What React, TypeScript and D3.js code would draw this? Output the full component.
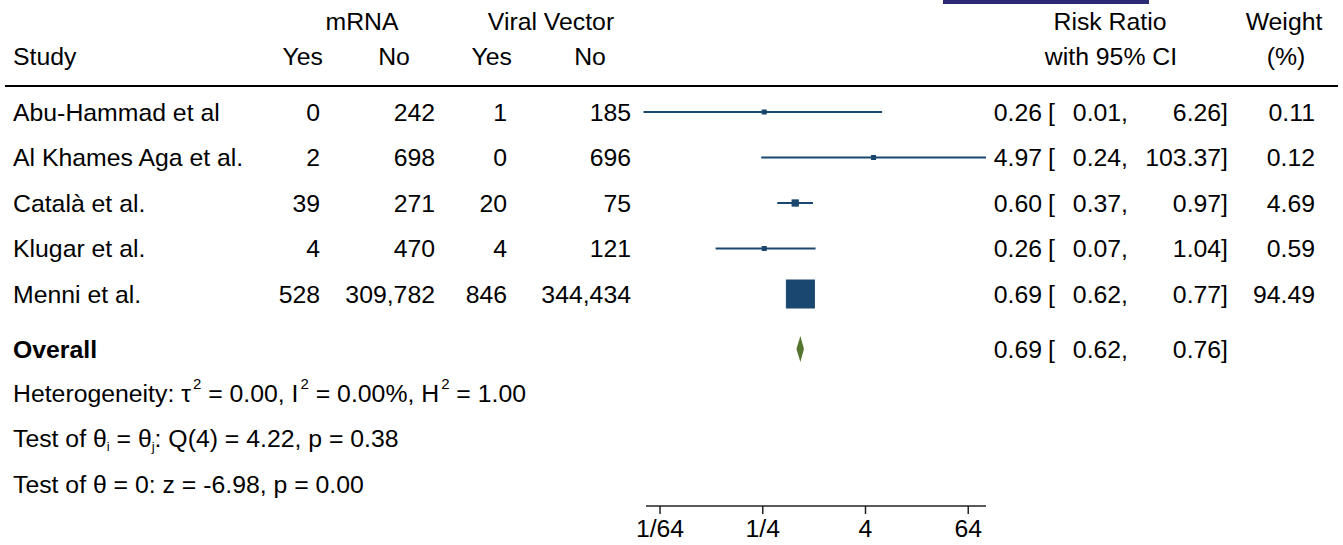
import React from 'react'
import * as d3 from 'd3'

// study rows
const studies = ['Abu-Hammad et al', 'Al Khames Aga et al.', 'Català et al.', 'Klugar et al.', 'Menni et al.']
const mrnaYes = [0, 2, 39, 4, 528]
const mrnaNo = [242, 698, 271, 470, 309782]
const vvYes = [1, 0, 20, 4, 846]
const vvNo = [185, 696, 75, 121, 344434]
const riskRatio = [0.26, 4.97, 0.6, 0.26, 0.69]
const ciLow = [0.01, 0.24, 0.37, 0.07, 0.62]
const ciHigh = [6.26, 103.37, 0.97, 1.04, 0.77]
const weights = [0.11, 0.12, 4.69, 0.59, 94.49]

// pooled estimate
const overallRR = 0.69
const overallLow = 0.62
const overallHigh = 0.76

const tickValues = [1 / 64, 1 / 4, 4, 64]
const tickLabels = ['1/64', '1/4', '4', '64']

const W = 1343
const H = 545
const FONT = '"Liberation Sans", Arial, sans-serif'
const FS = 24.8
const NAVY = '#1a476f'
const GREEN = '#55752f'

export default function App() {
  const x = d3.scaleLog()
    .base(2)
    .domain([d3.min(ciLow) as number, d3.max(ciHigh) as number])
    .range([643.5, 986])

  const rowY = d3.scalePoint<number>()
    .domain(d3.range(studies.length))
    .range([112, 294])

  const side = d3.scaleSqrt()
    .domain([0, d3.max(weights) as number])
    .range([0, 28])

  const fmtN = d3.format(',')
  const fmt2 = d3.format('.2f')
  const base = (cy: number) => cy + 8.7

  const overallY = 349
  const axisY = 506

  const num = (v: number, xr: number, cy: number, key: string) => (
    <text key={key} x={xr} y={base(cy)} textAnchor="end">{fmtN(v)}</text>
  )

  const ciText = (est: number, lo: number, hi: number, cy: number, key: string) => (
    <g key={key}>
      <text x={1042} y={base(cy)} textAnchor="end">{fmt2(est)}</text>
      <text x={1048} y={base(cy)}>[</text>
      <text x={1128} y={base(cy)} textAnchor="end">{fmt2(lo)},</text>
      <text x={1228} y={base(cy)} textAnchor="end">{fmt2(hi)}]</text>
    </g>
  )

  const [x0, x1] = x.range()

  return (
    <svg width={W} height={H} style={{ position: 'absolute', left: 0, top: 0, background: '#fff' }}
      fontFamily={FONT} fontSize={FS} fill="#000">
      <rect x={0} y={0} width={W} height={H} fill="#fff" />
      {/* cropped banner at top */}
      <rect x={943} y={0} width={206} height={4} fill="#2a2a72" />

      {/* headers */}
      <text x={362} y={30} textAnchor="middle">mRNA</text>
      <text x={551} y={30} textAnchor="middle">Viral Vector</text>
      <text x={13} y={65}>Study</text>
      <text x={323} y={65} textAnchor="end">Yes</text>
      <text x={394} y={65} textAnchor="middle">No</text>
      <text x={512} y={65} textAnchor="end">Yes</text>
      <text x={590} y={65} textAnchor="middle">No</text>
      <text x={1110} y={30} textAnchor="middle">Risk Ratio</text>
      <text x={1111} y={65} textAnchor="middle">with 95% CI</text>
      <text x={1284} y={30} textAnchor="middle">Weight</text>
      <text x={1286} y={65} textAnchor="middle">(%)</text>
      <line x1={5} x2={1338} y1={86} y2={86} stroke="#000" strokeWidth={2} />

      {/* study rows */}
      {studies.map((s, i) => {
        const cy = rowY(i) as number
        const sz = Math.max(4, side(weights[i]))
        return (
          <g key={s}>
            <text x={13} y={base(cy)}>{s}</text>
            {num(mrnaYes[i], 320, cy, 'a')}
            {num(mrnaNo[i], 435, cy, 'b')}
            {num(vvYes[i], 507, cy, 'c')}
            {num(vvNo[i], 631, cy, 'd')}
            <line x1={x(ciLow[i])} x2={x(ciHigh[i])} y1={cy} y2={cy} stroke={NAVY} strokeWidth={2} />
            <rect x={x(riskRatio[i]) - sz / 2} y={cy - sz / 2} width={sz} height={sz}
              fill={NAVY} stroke={NAVY} strokeWidth={1} />
            {ciText(riskRatio[i], ciLow[i], ciHigh[i], cy, 'ci')}
            <text x={1315} y={base(cy)} textAnchor="end">{fmt2(weights[i])}</text>
          </g>
        )
      })}

      {/* overall */}
      <text x={13} y={base(overallY)} fontWeight="bold">Overall</text>
      <path
        d={`M${x(overallLow)},${overallY} L${x(overallRR)},${overallY - 13} L${x(overallHigh)},${overallY} L${x(overallRR)},${overallY + 13} Z`}
        fill={GREEN} />
      {ciText(overallRR, overallLow, overallHigh, overallY, 'ov')}

      {/* heterogeneity */}
      <text x={13} y={base(393)}>
        Heterogeneity: τ<tspan dx={2} dy={-13} fontSize={15}>2</tspan>
        <tspan dy={13}> = 0.00, I</tspan><tspan dx={2} dy={-13} fontSize={15}>2</tspan>
        <tspan dy={13}> = 0.00%, H</tspan><tspan dx={2} dy={-13} fontSize={15}>2</tspan>
        <tspan dy={13}> = 1.00</tspan>
      </text>
      <text x={13} y={base(438)}>
        Test of θ<tspan dy={4} fontSize={13} fill="#000">i</tspan><tspan dy={-4}> = θ</tspan>
        <tspan dy={4} fontSize={13} fill="#000">j</tspan><tspan dy={-4}>: Q(4) = 4.22, p = 0.38</tspan>
      </text>
      <text x={13} y={base(484)}>Test of θ = 0: z = -6.98, p = 0.00</text>

      {/* axis */}
      <line x1={x0 + 2.5} x2={x1} y1={axisY} y2={axisY} stroke="#222" strokeWidth={1.5} />
      {tickValues.map((t, i) => (
        <g key={t}>
          <line x1={x(t)} x2={x(t)} y1={axisY} y2={axisY + 8} stroke="#222" strokeWidth={1.5} />
          <text x={x(t)} y={537} textAnchor="middle">{tickLabels[i]}</text>
        </g>
      ))}
    </svg>
  )
}
